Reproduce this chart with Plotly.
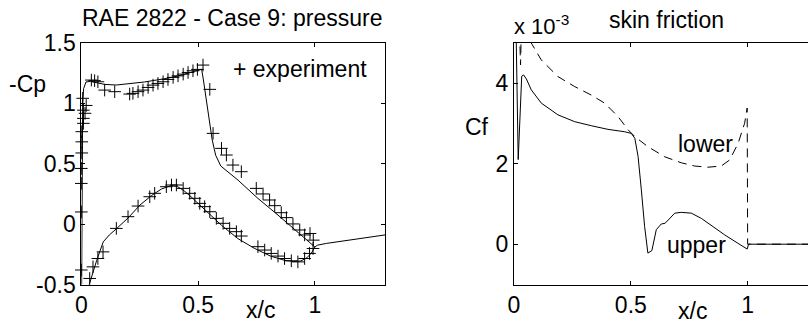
import plotly.graph_objects as go

W, H = 808, 324
FONT = "Liberation Sans, Arial, Helvetica, sans-serif"

# ---------------- Pressure (left) ----------------
cp_upper_x = [0.0, 0.002, 0.004, 0.006, 0.01, 0.02, 0.04, 0.06, 0.1, 0.15, 0.2, 0.27,
              0.366, 0.414, 0.47, 0.508, 0.515, 0.522, 0.535, 0.548, 0.56, 0.575, 0.597,
              0.671, 0.756, 0.842, 0.927, 1.0]
cp_upper_y = [-1.0, -0.2, 0.6, 1.0, 1.12, 1.175, 1.18, 1.17, 1.155, 1.15, 1.16, 1.175,
              1.205, 1.225, 1.255, 1.278, 1.28, 1.2, 1.03, 0.85, 0.7, 0.57, 0.48,
              0.363, 0.212, 0.074, -0.065, -0.19]

cp_lower_x = [0.0, 0.012, 0.025, 0.034, 0.05, 0.066, 0.094, 0.12, 0.152, 0.2, 0.251, 0.3,
              0.343, 0.38, 0.41, 0.44, 0.47, 0.53, 0.6, 0.67, 0.74, 0.81, 0.87, 0.91,
              0.94, 0.965, 0.985, 1.0]
cp_lower_y = [-1.0, -0.8, -0.62, -0.5, -0.39, -0.3, -0.147, -0.09, -0.036, 0.05, 0.157, 0.235,
              0.29, 0.315, 0.312, 0.275, 0.225, 0.115, -0.01, -0.12, -0.2, -0.265, -0.3, -0.31,
              -0.305, -0.28, -0.24, -0.19]

cp_wake_x = [1.0, 1.01, 1.05, 1.1, 1.15, 1.2, 1.25, 1.3]
cp_wake_y = [-0.19, -0.175, -0.16, -0.147, -0.133, -0.12, -0.105, -0.09]

exp_upper_x = [0.0, 0.0, 0.002, 0.002, 0.002, 0.009, 0.009, 0.009, 0.016, 0.006, 0.021,
               0.043, 0.057, 0.071, 0.1, 0.143, 0.207, 0.221, 0.243, 0.264, 0.286, 0.307,
               0.328, 0.35, 0.371, 0.393, 0.414, 0.436, 0.457, 0.478, 0.497, 0.521,
               0.55, 0.564, 0.6, 0.621, 0.649, 0.685, 0.749, 0.778, 0.806, 0.828, 0.856,
               0.878, 0.906, 0.935, 0.956, 0.979, 0.993]
exp_upper_y = [0.336, 0.46, 0.588, 0.68, 0.764, 0.833, 0.874, 0.942, 0.916, 1.04, 0.981,
               1.191, 1.186, 1.177, 1.108, 1.095, 1.075, 1.081, 1.095, 1.108, 1.13, 1.149,
               1.163, 1.177, 1.196, 1.213, 1.226, 1.24, 1.254, 1.268, 1.279, 1.315,
               1.114, 0.75, 0.626, 0.571, 0.488, 0.433, 0.295, 0.249, 0.199, 0.152, 0.094,
               0.053, 0.001, -0.049, -0.09, -0.078, -0.133]

exp_lower_x = [0.0, 0.0, 0.036, 0.05, 0.071, 0.093, 0.15, 0.2, 0.243, 0.293, 0.314, 0.364,
               0.386, 0.407, 0.436, 0.464, 0.486, 0.507, 0.528, 0.55, 0.578, 0.607, 0.635,
               0.664, 0.685, 0.756, 0.785, 0.813, 0.842, 0.87, 0.899, 0.927, 0.956, 0.977,
               0.992]
exp_lower_y = [0.1, -0.38, -0.45, -0.354, -0.285, -0.23, -0.036, 0.061, 0.149, 0.226, 0.254,
               0.309, 0.323, 0.323, 0.295, 0.254, 0.213, 0.171, 0.144, 0.102, 0.047, 0.006,
               -0.036, -0.063, -0.099, -0.187, -0.215, -0.243, -0.265, -0.285, -0.304,
               -0.313, -0.285, -0.243, -0.202]

# ---------------- Skin friction (right), units of 1e-3 ----------------
cf_upper_x = [0.0, 0.004, 0.018, 0.033, 0.041, 0.053, 0.074, 0.117, 0.188, 0.26, 0.331,
              0.402, 0.474, 0.502, 0.517, 0.531, 0.545, 0.559, 0.573, 0.59, 0.609, 0.63,
              0.647, 0.666, 0.688, 0.716, 0.759, 0.802, 0.859, 0.902, 0.959, 0.998, 1.004, 1.3]
cf_upper_y = [9.0, 7.0, 2.1, 4.17, 4.2, 4.1, 3.83, 3.5, 3.21, 3.04, 2.94,
              2.85, 2.79, 2.75, 2.63, 2.18, 1.35, 0.44, -0.22, -0.16, 0.36, 0.5,
              0.52, 0.64, 0.77, 0.79, 0.77, 0.64, 0.4, 0.23, 0.02, -0.12, 0.0, 0.0]

cf_lower_x = [0.0, 0.01, 0.028, 0.034, 0.05, 0.074, 0.117, 0.188, 0.26, 0.331, 0.388,
              0.445, 0.488, 0.517, 0.573, 0.645, 0.716, 0.773, 0.83, 0.887, 0.923, 0.959,
              0.987, 0.998, 1.0, 1.3]
cf_lower_y = [9.0, 8.0, 4.45, 6.0, 5.6, 4.99, 4.57, 4.16, 3.91, 3.70, 3.5,
              3.17, 2.84, 2.67, 2.42, 2.17, 2.02, 1.94, 1.91, 1.94, 2.09, 2.5,
              3.0, 3.38, 0.0, 0.0]

x_ticks = [0, 0.5, 1]
x_ticktext = ["0", "0.5", "1"]
cp_ticks = [-0.5, 0, 0.5, 1, 1.5]
cp_ticktext = ["-0.5", "0", "0.5", "1", "1.5"]
cf_ticks = [0, 2, 4]
cf_ticktext = ["0", "2", "4"]

# ---------------- layout geometry (pixels) ----------------
L_X0, L_X1 = 81.3, 385.0
R_X0 = 514.0
Y_TOP, Y_BOT = 42.7, 284.5
PX_PER_UNIT = 233.65

def px(x):
    return x / W

def py(y):
    return 1 - y / H

fig = go.Figure()
line = dict(color="black", width=1)

fig.add_trace(go.Scatter(x=cp_lower_x, y=cp_lower_y, mode="lines", line=line,
                         xaxis="x", yaxis="y", showlegend=False))
fig.add_trace(go.Scatter(x=cp_upper_x, y=cp_upper_y, mode="lines", line=line,
                         xaxis="x", yaxis="y", showlegend=False))
fig.add_trace(go.Scatter(x=cp_wake_x, y=cp_wake_y, mode="lines", line=line,
                         xaxis="x", yaxis="y", showlegend=False))
marker = dict(symbol="cross-thin-open", size=9, color="black", line=dict(color="black", width=1))
fig.add_trace(go.Scatter(x=exp_upper_x + exp_lower_x, y=exp_upper_y + exp_lower_y,
                         mode="markers", marker=marker, cliponaxis=False,
                         xaxis="x", yaxis="y", showlegend=False))

fig.add_trace(go.Scatter(x=cf_lower_x, y=cf_lower_y, mode="lines",
                         line=dict(color="black", width=1, dash="9px,6px"),
                         xaxis="x2", yaxis="y2", showlegend=False))
fig.add_trace(go.Scatter(x=cf_upper_x, y=cf_upper_y, mode="lines", line=line,
                         xaxis="x2", yaxis="y2", showlegend=False))

axis_common = dict(showgrid=False, zeroline=False, showline=True, linecolor="black",
                   linewidth=1, ticks="inside", ticklen=4, tickcolor="black", tickwidth=1,
                   automargin=False,
                   tickfont=dict(family=FONT, size=23, color="black"))

r_range_max = (W - R_X0) / PX_PER_UNIT

fig.update_layout(
    width=W, height=H, autosize=False,
    margin=dict(l=0, r=0, t=0, b=0, pad=0, autoexpand=False),
    paper_bgcolor="white", plot_bgcolor="white",
    showlegend=False,
    xaxis=dict(domain=[px(L_X0), px(L_X1)], range=[0, 1.3], tickvals=x_ticks,
               ticktext=x_ticktext, mirror="ticks", anchor="y", **axis_common),
    yaxis=dict(domain=[py(Y_BOT), py(Y_TOP)], range=[-0.5, 1.5], tickvals=cp_ticks,
               ticktext=cp_ticktext, mirror="ticks", anchor="x", **axis_common),
    xaxis2=dict(domain=[px(R_X0), 1.0], range=[0, r_range_max], tickvals=x_ticks,
                ticktext=x_ticktext, mirror="ticks", anchor="y2", **axis_common),
    yaxis2=dict(domain=[py(Y_BOT), py(Y_TOP)], range=[-1, 5], tickvals=cf_ticks,
                ticktext=cf_ticktext, mirror=False, anchor="x2", **axis_common),
)

def ann(text, x, y, size=23, xanchor="center", yanchor="middle"):
    fig.add_annotation(text=text, x=px(x), y=py(y), xref="paper", yref="paper",
                       xanchor=xanchor, yanchor=yanchor, showarrow=False,
                       font=dict(family=FONT, size=size, color="black"))

ann("RAE 2822 - Case 9: pressure", 232, 17.5)
ann("skin friction", 666, 19.7)
ann("-Cp", 27.5, 84)
ann("Cf", 477, 126.7)
ann("x/c", 260, 309.5)
ann("x/c", 692.5, 310.5)
ann("+ experiment", 300, 69)
ann("lower", 705, 144)
ann("upper", 696, 245)
ann("x 10<sup>-3</sup>", 512, 41, size=22, xanchor="left", yanchor="bottom")

fig.write_html("out.html", config={"displayModeBar": False},
               post_script="document.body.style.margin='0';document.body.style.overflow='hidden';")
